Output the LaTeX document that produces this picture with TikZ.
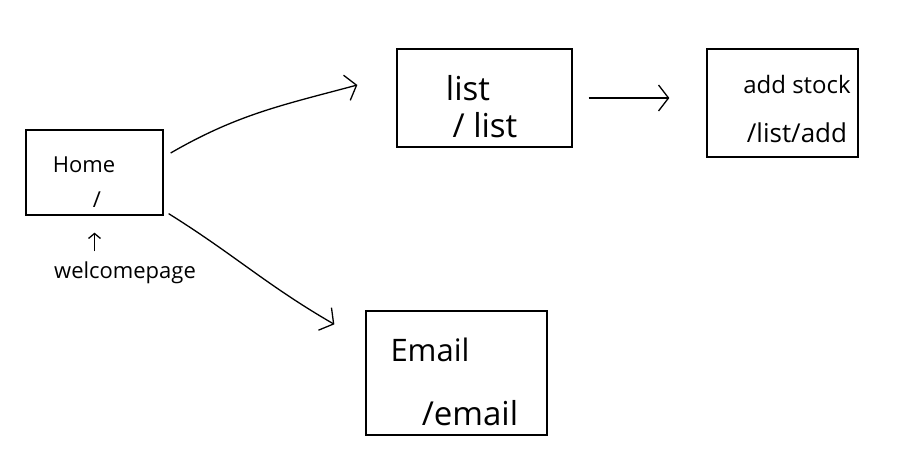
\documentclass[tikz,border=0pt]{standalone}
\usepackage{fontspec}
\setmainfont{Open Sans}
\usetikzlibrary{arrows.meta, positioning}

\begin{document}
\begin{tikzpicture}[x=1pt,y=1pt,>={Straight Barb[length=10pt,width=26pt]},line width=1.3pt,
    page/.style={draw,rectangle,inner sep=0pt},
    hand/.style={inner sep=2pt,font=\fontsize{#1}{#1}\selectfont}]
    \path[fill=white,use as bounding box] (0,0) rectangle (916,462);
    % pages
    \node[page,minimum width=137pt,minimum height=85pt] (home) at (94.5,289.5) {};
    \node[page,minimum width=175pt,minimum height=98pt] (list) at (484.5,364) {};
    \node[page,minimum width=151pt,minimum height=108pt] (add) at (782.5,359) {};
    \node[page,minimum width=181pt,minimum height=124pt] (email) at (456.5,89) {};
    % texts
    \node[hand=22] (hometxt) at (84,297) {Home};
    \node[hand=22] (homeurl) at (97,262) {/};
    \node[hand=22] (welcome) at (125,189) {welcomepage};
    \node[hand=33] (listtxt) at (468,374) {list};
    \node[hand=33] (listurl) at (485,337) {/ list};
    \node[hand=24] (addtxt) at (797,377) {add stock};
    \node[hand=26] (addurl) at (797,329) {/list/add};
    \node[hand=31] (emailtxt) at (430,112) {Email};
    \node[hand=33] (emailurl) at (470,49) {/email};
    % links
    \draw[->] ([shift={(7,19.5)}]home.east) to[out=30,in=195] ([shift={(-39,13)}]list.west);
    \draw[->,shorten <=16pt,shorten >=37pt] (list.east) -- (list.east -| add.west);
    \draw[->] ([shift={(5,2)}]home.south east) to[out=-32,in=150] ([shift={(-31,-14)}]email.north west);
    \draw[-{Straight Barb[length=5pt,width=12pt]},shorten <=8pt,shorten >=17pt] (home.south |- welcome.north) -- (home.south);
\end{tikzpicture}
\end{document}
